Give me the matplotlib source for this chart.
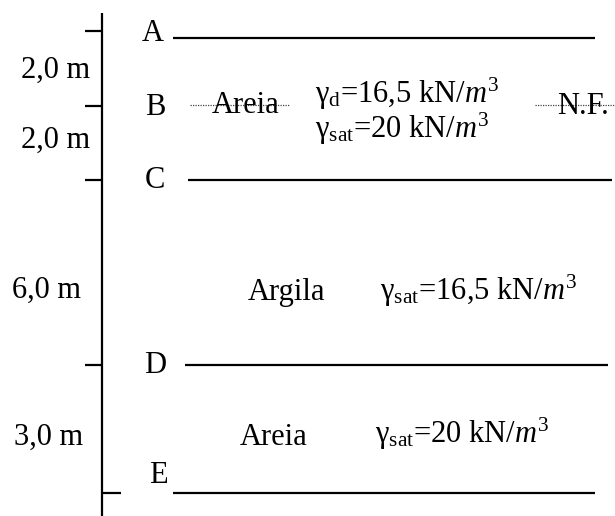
import matplotlib.pyplot as plt

plt.rcParams['font.family'] = 'Liberation Serif'
plt.rcParams['mathtext.fontset'] = 'custom'
plt.rcParams['mathtext.rm'] = 'Liberation Serif'
plt.rcParams['mathtext.it'] = 'Liberation Serif:italic'

# dados do perfil
niveis = ["A", "B", "C", "D", "E"]
espessuras = ["2,0 m", "2,0 m", "6,0 m", "3,0 m"]
solos = ["Areia", "Argila", "Areia"]
pesos = [
    r"γ$_{\mathrm{d}}$=16,5 kN/$m^{\mathit{3}}$",
    r"γ$_{\mathrm{sat}}$=20 kN/$m^{\mathit{3}}$",
    r"γ$_{\mathrm{sat}}$=16,5 kN/$m^{\mathit{3}}$",
    r"γ$_{\mathrm{sat}}$=20 kN/$m^{\mathit{3}}$",
]
nivel_agua = "N.F."

# posicoes do desenho (pixels, esquema fora de escala)
y_nivel = [38, 105, 180, 365, 493]
y_tick = [31, 106, 180, 365, 493]
y_letra = [41, 115, 188, 373, 483]
x_letra = [153, 155, 155, 155, 158]
linhas_x = [(173, 595), None, (188, 612), (185, 608), (173, 595)]

fig = plt.figure(figsize=(6.15, 5.16), dpi=100)
ax = fig.add_axes([0, 0, 1, 1])
ax.set_xlim(0, 615)
ax.set_ylim(516, 0)
ax.axis('off')

fs = 22
preto = dict(color='black', lw=1.6, solid_capstyle='butt')

# eixo vertical com marcas
ax.plot([102, 102], [13, 516], **preto)
for i, yt in enumerate(y_tick):
    if i == len(y_tick) - 1:
        ax.plot([102, 121], [yt, yt], **preto)
    else:
        ax.plot([85, 102], [yt, yt], **preto)

for i, nome in enumerate(niveis):
    ax.text(x_letra[i], y_letra[i], nome, fontsize=fs, ha='center', va='baseline')
    if linhas_x[i] is not None:
        ax.plot(linhas_x[i], [y_nivel[i], y_nivel[i]], **preto)

# nivel freatico (pontilhado)
pont = dict(color='#444444', lw=0.9, linestyle=(0, (1, 1)))
ax.plot([190, 290], [105, 105], **pont)
ax.plot([535, 615], [105, 105], **pont)
ax.text(557, 114, nivel_agua, fontsize=fs, ha='left', va='baseline')

# espessuras
x_esp = [90, 90, 81, 83]
y_esp = [78, 148, 298, 445]
for i, e in enumerate(espessuras):
    ax.text(x_esp[i], y_esp[i], e, fontsize=fs, ha='right', va='baseline')

# solos
x_solo = [246, 286, 274]
y_solo = [113, 300, 445]
for i, s in enumerate(solos):
    ax.text(x_solo[i], y_solo[i], s, fontsize=fs, ha='center', va='baseline')

# pesos especificos
x_peso = [315, 315, 380, 375]
y_peso = [103, 138, 300, 443]
for i, p in enumerate(pesos):
    ax.text(x_peso[i], y_peso[i], p, fontsize=fs, ha='left', va='baseline')

plt.savefig("out.png", dpi=100)
